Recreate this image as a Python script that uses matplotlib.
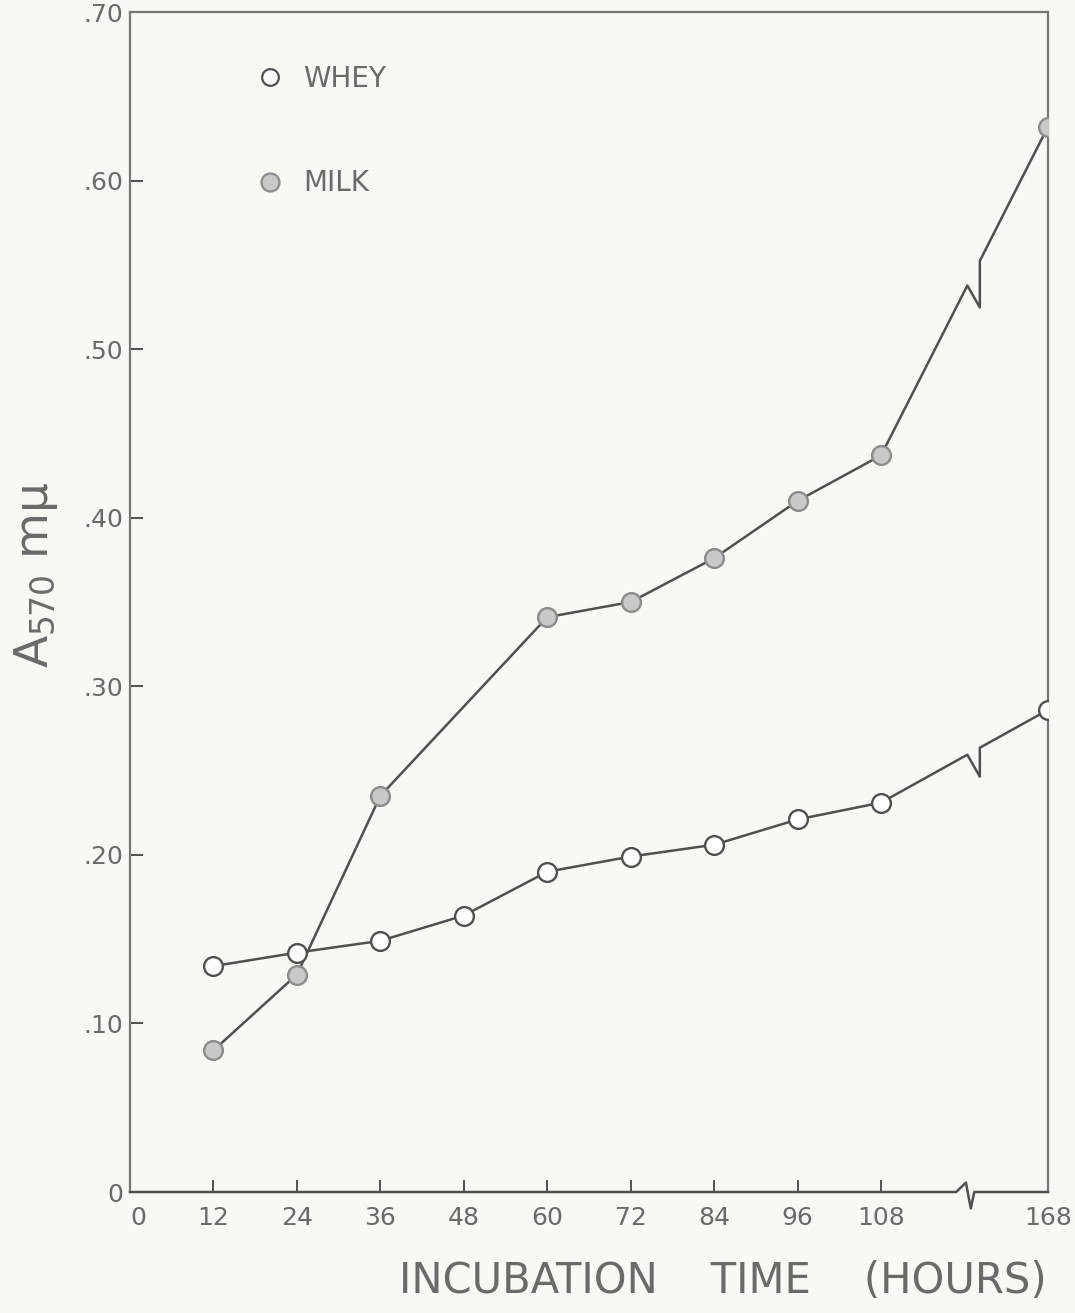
import matplotlib
matplotlib.use('Agg')
import matplotlib.pyplot as plt
from matplotlib.lines import Line2D

# values
whey_hours = [12, 24, 36, 48, 60, 72, 84, 96, 108, 168]
whey = [0.134, 0.142, 0.149, 0.164, 0.190, 0.199, 0.206, 0.221, 0.231, 0.286]

milk_hours = [12, 24, 36, 60, 72, 84, 96, 108, 168]
milk = [0.084, 0.129, 0.235, 0.341, 0.350, 0.376, 0.410, 0.437, 0.632]

x_tick_hours = [0, 12, 24, 36, 48, 60, 72, 84, 96, 108, 168]
y_ticks = [0, 0.10, 0.20, 0.30, 0.40, 0.50, 0.60, 0.70]
y_tick_labels = ['0', '.10', '.20', '.30', '.40', '.50', '.60', '.70']

# broken time axis: 168 h is drawn two steps after 108 h
LAST_REGULAR = 108
LAST_POS = 132
BREAK_AT = 120

INK = '#505050'
TEXT = '#6a6a6a'
BG = '#f8f8f4'


def pos(h):
    return h if h <= LAST_REGULAR else LAST_POS


def draw_series(ax, hrs, vals, face, edge):
    xs = [pos(h) for h in hrs]
    ax.plot(xs[:-1], vals[:-1], color=INK, lw=1.8, zorder=2)
    # last segment crosses the break: small N shaped zigzag on the line
    x0, y0, x1, y1 = xs[-2], vals[-2], xs[-1], vals[-1]
    line = lambda x: y0 + (y1 - y0) * (x - x0) / (x1 - x0)
    xa, xc = BREAK_AT + 0.4, BREAK_AT + 2.2
    drop = 0.013
    ax.plot([x0, xa, xc, xc, x1],
            [y0, line(xa), line(xa) - drop, line(xc), y1],
            color=INK, lw=1.8, zorder=2)
    ax.plot(xs, vals, ls='none', marker='o', ms=13.5, mfc=face, mec=edge,
            mew=1.7, zorder=3)


fig = plt.figure(figsize=(10.75, 13.13), dpi=100, facecolor=BG)
ax = fig.add_axes([130 / 1075, 1 - 1192 / 1313, 918 / 1075, 1180 / 1313])
ax.set_facecolor(BG)

draw_series(ax, whey_hours, whey, 'white', INK)
draw_series(ax, milk_hours, milk, '#c9c9c9', '#8c8c8c')

ax.set_xlim(0, LAST_POS)
ax.set_ylim(0, 0.70)
ax.set_xticks([pos(h) for h in x_tick_hours])
ax.set_xticklabels([str(h) for h in x_tick_hours])
ax.get_xticklabels()[0].set_ha('left')
ax.set_yticks(y_ticks)
ax.set_yticklabels(y_tick_labels)
ax.tick_params(direction='in', length=9, width=1.4, color=INK,
               labelsize=18, labelcolor=TEXT)
ax.tick_params(axis='x', pad=10)
ax.tick_params(axis='y', pad=5)

for side in ['left', 'top', 'right']:
    ax.spines[side].set_color('#777777')
    ax.spines[side].set_linewidth(1.6)
ax.spines['bottom'].set_visible(False)

# bottom axis with break mark
ax.plot([0, BREAK_AT - 1.2, BREAK_AT + 0.2, BREAK_AT + 0.9, BREAK_AT + 1.4, LAST_POS],
        [0, 0, 0.008, -0.014, 0, 0],
        transform=ax.get_xaxis_transform(), color=INK, lw=1.8, clip_on=False,
        zorder=4)

handles = [
    Line2D([], [], ls='none', marker='o', ms=12, mfc='white', mec=INK, mew=1.6),
    Line2D([], [], ls='none', marker='o', ms=13, mfc='#c9c9c9', mec='#8c8c8c', mew=1.6),
]
leg = ax.legend(handles, ['WHEY', 'MILK'], loc='upper left',
                bbox_to_anchor=(0.137, 0.955), frameon=False, fontsize=20,
                handlelength=1.0, handletextpad=0.7, labelspacing=2.75,
                borderpad=0, borderaxespad=0)
for t in leg.get_texts():
    t.set_color(TEXT)

fig.text(36 / 1075, 1 - 575 / 1313, 'A$_{570}$ mμ', rotation=90,
         ha='center', va='center', fontsize=34, color=TEXT)
fig.text(723 / 1075, 1 - 1281 / 1313, 'INCUBATION    TIME    (HOURS)',
         ha='center', va='center', fontsize=30, color=TEXT)

fig.savefig('out.png', dpi=100, facecolor=BG)
